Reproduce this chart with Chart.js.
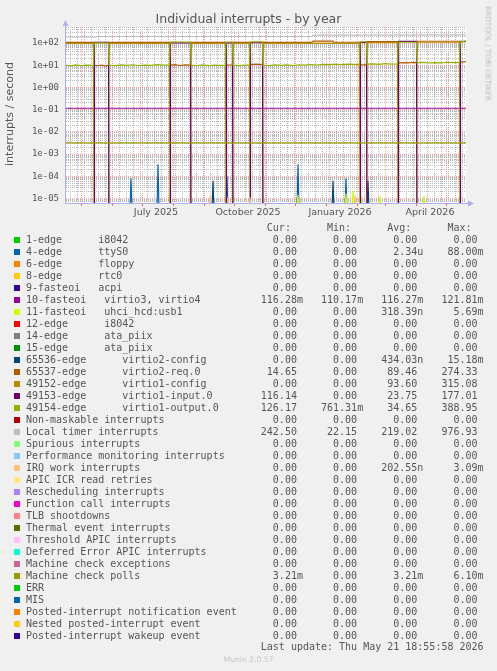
<!DOCTYPE html>
<html>
<head>
<meta charset="utf-8">
<title>Individual interrupts - by year</title>
<script src="https://cdn.jsdelivr.net/npm/chart.js@4.4.1/dist/chart.umd.min.js"></script>
<style>
  html, body { margin: 0; padding: 0; background: #f0f0f0; }
  #wrap { position: relative; width: 497px; height: 671px; overflow: hidden; }
  #chart { position: absolute; left: 0; top: 0; }
  .t { position: absolute; white-space: pre; color: #555; }
  .mono { font-family: "DejaVu Sans Mono", monospace; font-size: 10px; line-height: 12px; }
  .sans { font-family: "DejaVu Sans", sans-serif; }
  .sw { position: absolute; left: 14px; width: 6px; height: 6px; }
</style>
</head>
<body>
<div id="wrap">
  <canvas id="chart" width="497" height="671"></canvas>
  <div class="t sans" style="left:0;top:11px;width:497px;font-size:12.5px;line-height:16px;text-align:center">Individual interrupts - by year</div>
  <div class="t sans" style="left:-70px;top:107px;width:160px;height:14px;font-size:11px;line-height:14px;text-align:center;transform:rotate(-90deg)">interrupts / second</div>
  <div class="t sans" style="left:438px;top:49px;width:100px;height:9px;font-size:7.4px;line-height:9px;text-align:center;color:#bbb;transform:rotate(90deg)">RRDTOOL / TOBI OETIKER</div>
  <div id="legend"></div>
  <div class="t sans" style="left:0;top:655px;width:497px;font-size:7.6px;line-height:9px;text-align:center;color:#c4c4c4">Munin 2.0.57</div>
</div>
<script>
// x axis = days since 16 Apr 2025 (start of the 400 day window)
const windowDays = 400;
const monthStartDays = [15, 46, 76, 107, 138, 168, 199, 229, 260, 291, 319, 350, 380];
const monthLabelDays = [90, 182, 274, 364]; // labels sit mid-month
const monthLabels = ['July 2025', 'October 2025', 'January 2026', 'April 2026'];
const firstSunday = 4;

const yMin = 6.3e-6;
const yMax = 5.25e2;
const zeroFloor = yMin / 2; // a log axis can't show 0, rrdtool draws it off the bottom

// [day, interrupts/s]
const virtio2ReqPts = [[0,107],[27.5,107],[28,10],[31,9.5],[35,10.2],[39,9.4],[42.5,9.8],[43,107],[103.5,107],[104,10],[109,10.6],[114,9.7],[119,10.4],[124.5,10],[125,107],[159.5,107],[160,10.2],[166.5,10.4],[167,107],[183.5,107],[184,10.6],[190,11.2],[196.5,10.8],[197,107],[246,107],[247,122],[267,122],[268,108],[293.5,108],[294,10.5],[300.5,10.3],[301,115],[331.5,115],[332,12.6],[337,13.2],[342,12.7],[347,13.3],[350.5,13],[351,120],[393.5,120],[394,13.6],[400,14.6]];
const virtio1ConfigPts = [[0,97],[27.5,97],[28,0],[42.5,0],[43,97],[103.5,97],[104,0],[124.5,0],[125,97],[159.5,97],[160,0],[166.5,0],[167,97],[183.5,97],[184,0],[196.5,0],[197,97],[293.5,98],[294,0],[300.5,0],[301,104],[331.5,104],[332,0],[350.5,0],[351,108],[393.5,108],[394,0],[400,0]];
const virtio1InputPts = [[0,0],[28,0],[28.5,108],[42.5,108],[43,0],[104,0],[104.5,102],[124.5,102],[125,0],[160,0],[160.5,102],[166.5,102],[167,0],[184,0],[184.5,103],[196.5,103],[197,0],[294,0],[294.5,106],[300.5,106],[301,0],[332,0],[332.5,118],[350.5,118],[351,0],[394,0],[394.5,118],[400,116]];
const virtio1OutputPts = [[0,10],[5,9.3],[10,10.4],[15,9.6],[21,10.2],[27.5,9.8],[28,98],[35,99],[42.5,98],[43,10.2],[49,9.6],[55,10.3],[61,9.8],[67,10.5],[73,9.7],[79,10.2],[85,9.9],[91,10.6],[97,10.1],[103.5,10],[104,110],[114,111],[124.5,110],[125,10],[131,9.7],[137,10.3],[143,9.5],[149,10.2],[155,9.8],[159.5,10],[160,111],[166.5,111],[167,10],[173,9.6],[179,10.1],[183.5,10],[184,112],[196.5,112],[197,10.2],[203,9.6],[209,10.4],[215,9.8],[221,10.3],[227,9.6],[233,10.5],[239,10.1],[245,10.8],[251,10.2],[257,11],[263,10.6],[269,11.2],[275,10.7],[281,11.3],[287,10.9],[293.5,11],[294,114],[300.5,114],[301,11.2],[307,11.6],[313,11],[319,11.8],[325,11.3],[331.5,11.5],[332,108],[350.5,108],[351,13],[357,13.4],[363,12.6],[369,13.2],[375,12.8],[381,13.6],[387,13],[393.5,13.2],[394,110],[400,126]];
const localTimerPts = [[0,186],[30,186],[31,196],[246,196],[247,228],[400,232]];
const virtio34Pts = [[0,0.116],[400,0.116]];
const mcePollPts = [[0,0.0032],[400,0.0032]];
const zeroPts = [[0,0],[400,0]];

// short bursts
const ttyS0SpikeDays = [65, 92, 161, 232, 280];
const ttyS0SpikePeaks = [8e-5, 3.5e-4, 1e-4, 3.5e-4, 8e-5];
const virtio2CfgSpikeDays = [147, 267, 302];
const virtio2CfgSpikePeaks = [6.3e-5, 6.3e-5, 6.3e-5];
const uhciSpikeDays = [104, 167, 232, 280, 287, 295, 314, 358, 394];
const uhciSpikePeaks = [1.4e-5, 1.3e-5, 1.45e-5, 1.7e-5, 2.3e-5, 1.3e-5, 1.3e-5, 1.35e-5, 1.3e-5];
const irqWorkSpikeDays = [144, 162, 184, 289];
const irqWorkSpikePeaks = [1.27e-5, 1.2e-5, 1.15e-5, 1.4e-5];

const legendNames = [
  '1-edge      i8042', '4-edge      ttyS0', '6-edge      floppy', '8-edge      rtc0',
  '9-fasteoi   acpi', '10-fasteoi   virtio3, virtio4', '11-fasteoi   uhci_hcd:usb1',
  '12-edge      i8042', '14-edge      ata_piix', '15-edge      ata_piix',
  '65536-edge      virtio2-config', '65537-edge      virtio2-req.0', '49152-edge      virtio1-config',
  '49153-edge      virtio1-input.0', '49154-edge      virtio1-output.0',
  'Non-maskable interrupts', 'Local timer interrupts', 'Spurious interrupts',
  'Performance monitoring interrupts', 'IRQ work interrupts', 'APIC ICR read retries',
  'Rescheduling interrupts', 'Function call interrupts', 'TLB shootdowns',
  'Thermal event interrupts', 'Threshold APIC interrupts', 'Deferred Error APIC interrupts',
  'Machine check exceptions', 'Machine check polls', 'ERR', 'MIS',
  'Posted-interrupt notification event', 'Nested posted-interrupt event', 'Posted-interrupt wakeup event'
];
const legendColors = [
  '#00CC00', '#0066B3', '#FF8000', '#FFCC00', '#330099', '#990099', '#CCFF00', '#FF0000',
  '#808080', '#008F00', '#00487D', '#B35A00', '#B38F00', '#6B006B', '#8FB300', '#B30000',
  '#BEBEBE', '#80FF80', '#80C9FF', '#FFC080', '#FFE680', '#AA80FF', '#EE00CC', '#FF8080',
  '#666600', '#FFBFFF', '#00FFCC', '#CC6699', '#999900', '#00CC00', '#0066B3', '#FF8000',
  '#FFCC00', '#330099'
];
const curValues = ['0.00','0.00','0.00','0.00','0.00','116.28m','0.00','0.00','0.00','0.00','0.00','14.65','0.00','116.14','126.17','0.00','242.50','0.00','0.00','0.00','0.00','0.00','0.00','0.00','0.00','0.00','0.00','0.00','3.21m','0.00','0.00','0.00','0.00','0.00'];
const minValues = ['0.00','0.00','0.00','0.00','0.00','110.17m','0.00','0.00','0.00','0.00','0.00','0.00','0.00','0.00','761.31m','0.00','22.15','0.00','0.00','0.00','0.00','0.00','0.00','0.00','0.00','0.00','0.00','0.00','0.00','0.00','0.00','0.00','0.00','0.00'];
const avgValues = ['0.00','2.34u','0.00','0.00','0.00','116.27m','318.39n','0.00','0.00','0.00','434.03n','89.46','93.60','23.75','34.65','0.00','219.02','0.00','0.00','202.55n','0.00','0.00','0.00','0.00','0.00','0.00','0.00','0.00','3.21m','0.00','0.00','0.00','0.00','0.00'];
const maxValues = ['0.00','88.00m','0.00','0.00','0.00','121.81m','5.69m','0.00','0.00','0.00','15.18m','274.33','315.08','177.01','388.95','0.00','976.93','0.00','0.00','3.09m','0.00','0.00','0.00','0.00','0.00','0.00','0.00','0.00','6.10m','0.00','0.00','0.00','0.00','0.00'];
const lastUpdate = 'Last update: Thu May 21 18:55:58 2026';

function spikes(days, peaks) {
  let pts = [[0, 0]];
  days.forEach((d, i) => {
    pts.push([d - 1, 0], [d, peaks[i]], [d + 1, 0]);
  });
  pts.push([windowDays, 0]);
  return pts;
}

// one entry per legend row, same order
const seriesPoints = legendNames.map(() => zeroPts);
seriesPoints[1] = spikes(ttyS0SpikeDays, ttyS0SpikePeaks);
seriesPoints[5] = virtio34Pts;
seriesPoints[6] = spikes(uhciSpikeDays, uhciSpikePeaks);
seriesPoints[10] = spikes(virtio2CfgSpikeDays, virtio2CfgSpikePeaks);
seriesPoints[11] = virtio2ReqPts;
seriesPoints[12] = virtio1ConfigPts;
seriesPoints[13] = virtio1InputPts;
seriesPoints[14] = virtio1OutputPts;
seriesPoints[16] = localTimerPts;
seriesPoints[19] = spikes(irqWorkSpikeDays, irqWorkSpikePeaks);
seriesPoints[28] = mcePollPts;

const datasets = seriesPoints.map((pts, i) => ({
  label: legendNames[i],
  data: pts.map(p => [p[0], p[1] === 0 ? zeroFloor : p[1]]),
  borderColor: legendColors[i],
  borderWidth: 1.2,
  pointRadius: 0,
  tension: 0,
  fill: false,
  order: legendNames.length - i // later rows drawn on top, like rrdtool
}));

// grid positions
let weekDays = [];
for (let d = firstSunday; d < windowDays; d += 7) weekDays.push(d);
const xTickDays = Array.from(new Set(weekDays.concat(monthStartDays, monthLabelDays))).sort((a, b) => a - b);

let yTickValues = [];
for (let p = -6; p <= 2; p++) {
  for (let m = 1; m <= 9; m++) {
    let v = parseFloat(m + 'e' + p);
    if (v >= yMin && v <= yMax) yTickValues.push(v);
  }
}
function isDecade(v) {
  let e = Math.log10(v);
  return Math.abs(e - Math.round(e)) < 1e-9;
}

const majorGrid = 'rgba(255,60,60,0.45)';
const minorGrid = '#b8b8b8';

const frame = {
  id: 'frame',
  beforeDraw(chart) {
    const {ctx, chartArea: a} = chart;
    ctx.save();
    ctx.fillStyle = '#ffffff';
    ctx.fillRect(a.left, a.top, a.right - a.left, a.bottom - a.top);
    ctx.restore();
  },
  afterDatasetsDraw(chart) {
    const {ctx, chartArea: a} = chart;
    ctx.save();
    ctx.fillStyle = '#aab0f0';
    ctx.fillRect(a.left - 1, a.top - 4, 1, a.bottom - a.top + 5);
    ctx.fillRect(a.left - 1, a.bottom, a.right - a.left + 3, 1);
    ctx.beginPath(); // y arrow
    ctx.moveTo(a.left - 0.5, a.top - 7);
    ctx.lineTo(a.left + 2.5, a.top - 1);
    ctx.lineTo(a.left - 3.5, a.top - 1);
    ctx.closePath();
    ctx.fill();
    ctx.beginPath(); // x arrow
    ctx.moveTo(a.right + 8, a.bottom + 0.5);
    ctx.lineTo(a.right + 2, a.bottom - 2.5);
    ctx.lineTo(a.right + 2, a.bottom + 3.5);
    ctx.closePath();
    ctx.fill();
    ctx.restore();
  }
};

new Chart(document.getElementById('chart'), {
  type: 'line',
  data: { datasets },
  plugins: [frame],
  options: {
    responsive: false,
    animation: false,
    devicePixelRatio: 1,
    layout: { padding: { left: 0, right: 31, top: 27, bottom: 448 } },
    plugins: { legend: { display: false }, tooltip: { enabled: false } },
    scales: {
      x: {
        type: 'linear',
        min: 0,
        max: windowDays,
        afterFit(scale) { scale.height = 20; },
        afterBuildTicks(scale) { scale.ticks = xTickDays.map(v => ({ value: v })); },
        border: { display: false, dash: [1, 1] },
        grid: {
          drawTicks: true,
          tickLength: 3,
          color(ctx) {
            const v = ctx.tick && ctx.tick.value;
            if (monthStartDays.includes(v)) return majorGrid;
            if (monthLabelDays.includes(v)) return 'rgba(0,0,0,0)';
            return minorGrid;
          },
          tickColor(ctx) {
            const v = ctx.tick && ctx.tick.value;
            return monthStartDays.includes(v) ? '#ff6060' : 'rgba(0,0,0,0)';
          }
        },
        ticks: {
          autoSkip: false,
          maxRotation: 0,
          minRotation: 0,
          padding: 1,
          color: '#555',
          font: { family: 'DejaVu Sans', size: 9.5 },
          callback(value) {
            const k = monthLabelDays.indexOf(value);
            return k >= 0 ? monthLabels[k] : '';
          }
        }
      },
      y: {
        type: 'logarithmic',
        min: yMin,
        max: yMax,
        afterFit(scale) { scale.width = 66; },
        afterBuildTicks(scale) { scale.ticks = yTickValues.map(v => ({ value: v })); },
        border: { display: false, dash: [1, 1] },
        grid: {
          drawTicks: false,
          color(ctx) {
            const v = ctx.tick && ctx.tick.value;
            return v && isDecade(v) ? majorGrid : minorGrid;
          }
        },
        ticks: {
          autoSkip: false,
          padding: 7,
          color: '#555',
          font: { family: 'DejaVu Sans Mono', size: 9 },
          callback(value) {
            if (!isDecade(value)) return '';
            const p = Math.round(Math.log10(value));
            return '1e' + (p < 0 ? '-' : '+') + String(Math.abs(p)).padStart(2, '0');
          }
        }
      }
    }
  }
});

// legend table under the graph
function cell(v) {
  const m = v.match(/^([\d.]+)([a-zA-Z]?)$/);
  return m[1].padStart(6) + (m[2] || ' ');
}
const legendEl = document.getElementById('legend');
function addRow(text, centerY) {
  const div = document.createElement('div');
  div.className = 't mono';
  div.style.left = '26px';
  div.style.top = (centerY - 6) + 'px';
  div.textContent = text;
  legendEl.appendChild(div);
}
addRow(' '.repeat(40) + 'Cur:      Min:      Avg:      Max:', 227.7);
legendNames.forEach((name, i) => {
  const y = 240 + i * 12;
  const sw = document.createElement('div');
  sw.className = 'sw';
  sw.style.top = (y - 3) + 'px';
  sw.style.background = legendColors[i];
  legendEl.appendChild(sw);
  addRow(name.padEnd(39) + cell(curValues[i]) + '   ' + cell(minValues[i]) + '   ' +
    cell(avgValues[i]) + '   ' + cell(maxValues[i]), y);
});
addRow(' '.repeat(39) + lastUpdate, 647.3);
</script>
</body>
</html>
